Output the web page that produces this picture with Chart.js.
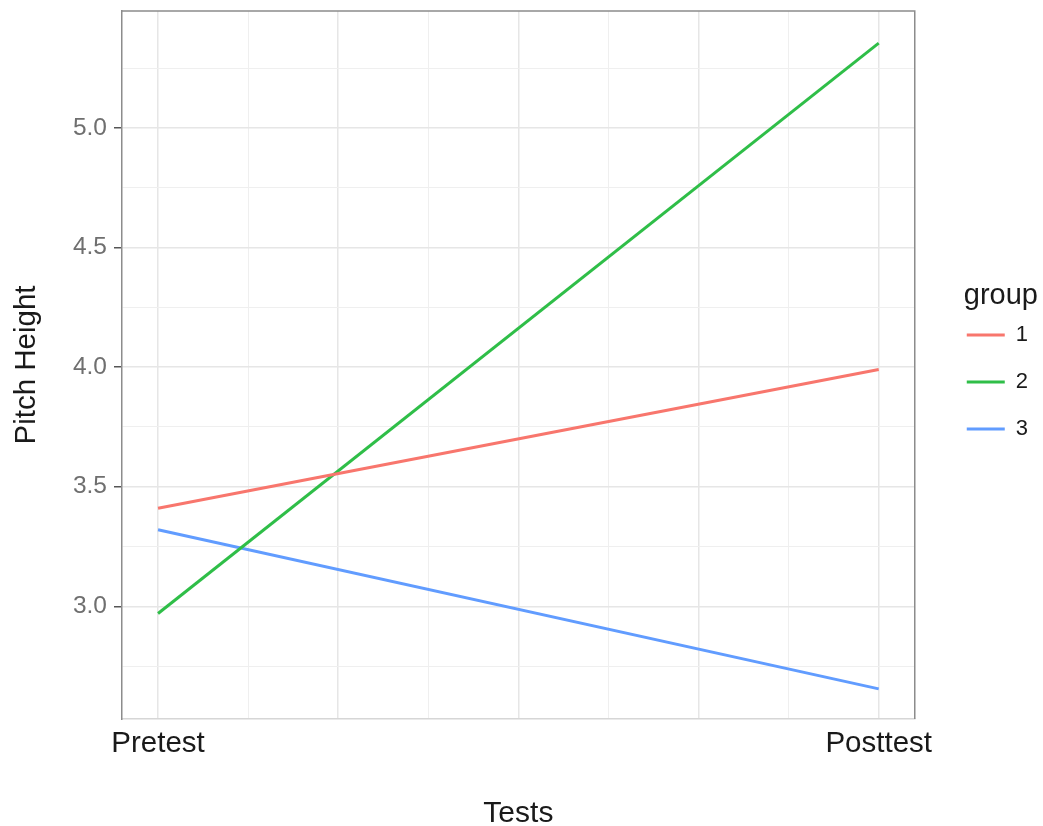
<!DOCTYPE html>
<html>
<head>
<meta charset="utf-8">
<title>Pitch Height by Test</title>
<script src="https://cdn.jsdelivr.net/npm/chart.js@4.4.1/dist/chart.umd.min.js"></script>
<style>
    html, body { margin: 0; padding: 0; background: #fff; }
    #wrap { position: relative; width: 1043px; height: 826px; }
</style>
</head>
<body>
<div id="wrap"><canvas id="pitchChart"></canvas></div>
<script>
// Chart data
const categories = ['Pretest', 'Posttest'];
const testPositions = [1, 2];
const groupNames = ['1', '2', '3'];
const group1 = [3.41, 3.99];
const group2 = [2.97, 5.355];
const group3 = [3.32, 2.655];
const groupColors = ['#F8766D', '#2FBE48', '#619CFF'];

// Axis ranges and grid positions
const xRange = [0.95, 2.05];
const yRange = [2.529, 5.489];
const xGridValues = [1, 1.125, 1.25, 1.375, 1.5, 1.625, 1.75, 1.875, 2];
const yGridValues = [2.75, 3, 3.25, 3.5, 3.75, 4, 4.25, 4.5, 4.75, 5, 5.25];
const yLabelValues = [3, 3.5, 4, 4.5, 5];

const FONT = '"Liberation Sans", Arial, Helvetica, sans-serif';

function toPoints(values) {
    return values.map((v, i) => ({ x: testPositions[i], y: v }));
}

function isMajor(value, step) {
    return Math.abs(value / step - Math.round(value / step)) < 1e-6;
}

// top and right edges of the panel (left / bottom come from the axes)
const panelBorder = {
    id: 'panelBorder',
    afterDatasetsDraw(chart) {
        const { ctx, chartArea } = chart;
        ctx.save();
        ctx.strokeStyle = '#8c8c8c';
        ctx.lineWidth = 1.5;
        ctx.beginPath();
        ctx.moveTo(chartArea.left, chartArea.top);
        ctx.lineTo(chartArea.right, chartArea.top);
        ctx.lineTo(chartArea.right, chartArea.bottom);
        ctx.stroke();
        ctx.restore();
    }
};

const seriesValues = [group1, group2, group3];

new Chart(document.getElementById('pitchChart'), {
    type: 'line',
    data: {
        datasets: groupNames.map((name, i) => ({
            label: name,
            data: toPoints(seriesValues[i]),
            borderColor: groupColors[i],
            backgroundColor: groupColors[i],
            borderWidth: 3,
            pointRadius: 0,
            tension: 0,
            fill: false
        }))
    },
    options: {
        responsive: true,
        maintainAspectRatio: false,
        animation: false,
        events: [],
        layout: {
            padding: { top: 11, right: 5, bottom: 0, left: 0 }
        },
        plugins: {
            tooltip: { enabled: false },
            legend: {
                display: true,
                position: 'right',
                align: 'center',
                fullSize: false,
                title: {
                    display: true,
                    text: 'group',
                    position: 'end',
                    color: '#1a1a1a',
                    font: { family: FONT, size: 29, lineHeight: 0.62 },
                    padding: { top: 16, bottom: 0 }
                },
                labels: {
                    boxWidth: 38,
                    boxHeight: 3,
                    padding: 25,
                    color: '#1a1a1a',
                    font: { family: FONT, size: 22 },
                    generateLabels(chart) {
                        return Chart.defaults.plugins.legend.labels.generateLabels(chart)
                            .map(item => ({ ...item, lineWidth: 0 }));
                    }
                }
            }
        },
        scales: {
            x: {
                type: 'linear',
                position: 'bottom',
                min: xRange[0],
                max: xRange[1],
                afterBuildTicks(scale) {
                    scale.ticks = xGridValues.map(v => ({ value: v }));
                },
                afterFit(scale) {
                    scale.height = 107;
                    scale.paddingLeft = 0;
                    scale.paddingRight = 0;
                },
                ticks: {
                    autoSkip: false,
                    maxRotation: 0,
                    padding: 7,
                    color: '#1a1a1a',
                    font: { family: FONT, size: 29.5 },
                    callback(value) {
                        const idx = testPositions.indexOf(value);
                        return idx >= 0 ? categories[idx] : '';
                    }
                },
                grid: {
                    drawTicks: false,
                    color: ctx => isMajor(ctx.tick.value, 0.25) ? '#e6e6e6' : '#efefef',
                    lineWidth: ctx => isMajor(ctx.tick.value, 0.25) ? 1.5 : 1
                },
                border: { display: true, color: '#d6d6d6', width: 1.5 },
                title: {
                    display: true,
                    text: 'Tests',
                    color: '#1a1a1a',
                    font: { family: FONT, size: 30, lineHeight: 0.8 },
                    padding: { top: 0, bottom: 0 }
                }
            },
            y: {
                type: 'linear',
                position: 'left',
                min: yRange[0],
                max: yRange[1],
                afterBuildTicks(scale) {
                    scale.ticks = yGridValues.map(v => ({ value: v }));
                },
                afterFit(scale) {
                    scale.width = 122;
                    scale.paddingTop = 0;
                    scale.paddingBottom = 0;
                },
                ticks: {
                    autoSkip: false,
                    padding: 7,
                    color: '#6f6f6f',
                    font: { family: FONT, size: 24.5 },
                    callback(value) {
                        return yLabelValues.some(v => Math.abs(v - value) < 1e-6) ? value.toFixed(1) : '';
                    }
                },
                grid: {
                    tickLength: 8,
                    tickWidth: 1.5,
                    tickColor: ctx => isMajor(ctx.tick.value, 0.5) ? '#555555' : 'rgba(0,0,0,0)',
                    color: ctx => isMajor(ctx.tick.value, 0.5) ? '#e6e6e6' : '#efefef',
                    lineWidth: ctx => isMajor(ctx.tick.value, 0.5) ? 1.5 : 1
                },
                border: { display: true, color: '#8c8c8c', width: 1.5 },
                title: {
                    display: true,
                    text: 'Pitch Height',
                    color: '#1a1a1a',
                    font: { family: FONT, size: 29.5, lineHeight: 1 },
                    padding: { top: 12, bottom: 0 }
                }
            },
            // empty spacer between the panel and the legend
            spacer: {
                type: 'linear',
                position: 'right',
                display: true,
                afterFit(scale) {
                    scale.width = 27;
                    scale.paddingTop = 0;
                    scale.paddingBottom = 0;
                },
                ticks: { display: false },
                grid: { display: false, drawOnChartArea: false },
                border: { display: false }
            }
        }
    },
    plugins: [panelBorder]
});
</script>
</body>
</html>
